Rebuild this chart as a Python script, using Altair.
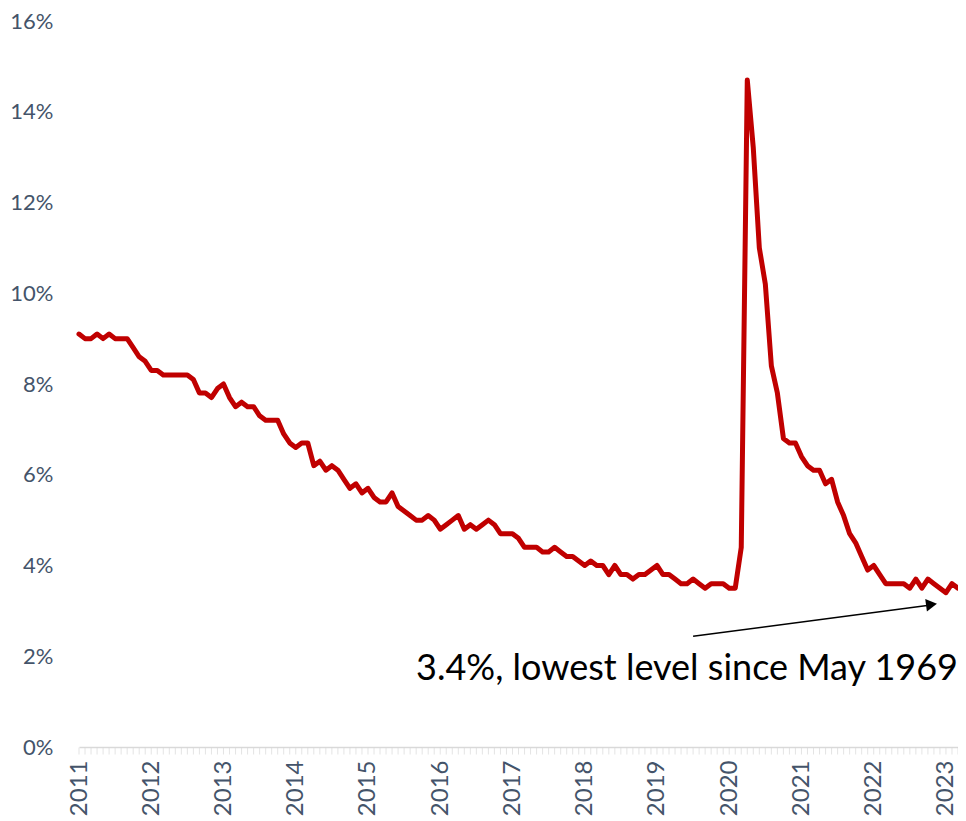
import altair as alt
import pandas as pd

# Monthly unemployment rate (%), Jan 2011 - Mar 2023
start_year = 2011
rates_2011 = [9.1, 9.0, 9.0, 9.1, 9.0, 9.1, 9.0, 9.0, 9.0, 8.8, 8.6, 8.5]
rates_2012 = [8.3, 8.3, 8.2, 8.2, 8.2, 8.2, 8.2, 8.1, 7.8, 7.8, 7.7, 7.9]
rates_2013 = [8.0, 7.7, 7.5, 7.6, 7.5, 7.5, 7.3, 7.2, 7.2, 7.2, 6.9, 6.7]
rates_2014 = [6.6, 6.7, 6.7, 6.2, 6.3, 6.1, 6.2, 6.1, 5.9, 5.7, 5.8, 5.6]
rates_2015 = [5.7, 5.5, 5.4, 5.4, 5.6, 5.3, 5.2, 5.1, 5.0, 5.0, 5.1, 5.0]
rates_2016 = [4.8, 4.9, 5.0, 5.1, 4.8, 4.9, 4.8, 4.9, 5.0, 4.9, 4.7, 4.7]
rates_2017 = [4.7, 4.6, 4.4, 4.4, 4.4, 4.3, 4.3, 4.4, 4.3, 4.2, 4.2, 4.1]
rates_2018 = [4.0, 4.1, 4.0, 4.0, 3.8, 4.0, 3.8, 3.8, 3.7, 3.8, 3.8, 3.9]
rates_2019 = [4.0, 3.8, 3.8, 3.7, 3.6, 3.6, 3.7, 3.6, 3.5, 3.6, 3.6, 3.6]
rates_2020 = [3.5, 3.5, 4.4, 14.7, 13.2, 11.0, 10.2, 8.4, 7.8, 6.8, 6.7, 6.7]
rates_2021 = [6.4, 6.2, 6.1, 6.1, 5.8, 5.9, 5.4, 5.1, 4.7, 4.5, 4.2, 3.9]
rates_2022 = [4.0, 3.8, 3.6, 3.6, 3.6, 3.6, 3.5, 3.7, 3.5, 3.7, 3.6, 3.5]
rates_2023 = [3.4, 3.6, 3.5]

y_ticks = [0, 2, 4, 6, 8, 10, 12, 14, 16]

annotation_text = "3.4%, lowest level since May 1969"

rates = (rates_2011 + rates_2012 + rates_2013 + rates_2014 + rates_2015 + rates_2016
         + rates_2017 + rates_2018 + rates_2019 + rates_2020 + rates_2021 + rates_2022
         + rates_2023)
n = len(rates)
df = pd.DataFrame({"m": list(range(n)), "rate": rates, "zero": [0] * n})

last_idx = n - 1
year_idx = list(range(0, n, 12))

x_scale = alt.Scale(domain=[0, last_idx], nice=False, zero=False)
y_scale = alt.Scale(domain=[0, 16], nice=False)

x_axis = alt.Axis(
    values=year_idx,
    labelExpr=f"toString({start_year} + round(datum.value / 12))",
    labelAngle=-90,
    labelOverlap=False,
    labelFlush=False,
    labelBound=False,
    labelFont="Lato",
    labelFontSize=24,
    labelColor="#44546A",
    labelPadding=13,
    ticks=False,
    domainColor="#D9D9D9",
    domainWidth=1.5,
    grid=False,
    title=None,
)
y_axis = alt.Axis(
    values=y_ticks,
    labelExpr="datum.value + '%'",
    labelFont="Lato",
    labelFontSize=22,
    labelColor="#44546A",
    labelPadding=26,
    ticks=False,
    domain=False,
    grid=False,
    title=None,
)

# monthly minor ticks on the category axis
month_ticks = alt.Chart(df).mark_tick(
    orient="vertical", color="#D9D9D9", thickness=1, size=7, yOffset=4
).encode(
    x=alt.X("m:Q", scale=x_scale, axis=x_axis),
    y=alt.Y("zero:Q", scale=y_scale, axis=y_axis),
)

line = alt.Chart(df).mark_line(
    color="#C00000", strokeWidth=5, strokeJoin="round", strokeCap="round"
).encode(
    x=alt.X("m:Q", scale=x_scale),
    y=alt.Y("rate:Q", scale=y_scale),
)

# Annotation arrow and label
arrow_df = pd.DataFrame({"x": [102.0], "y": [2.44], "x2": [141.5], "y2": [3.13]})
arrow = alt.Chart(arrow_df).mark_rule(color="black", strokeWidth=1.5).encode(
    x=alt.X("x:Q", scale=x_scale), y=alt.Y("y:Q", scale=y_scale),
    x2="x2:Q", y2="y2:Q",
)
head_df = pd.DataFrame({"x": [141.6], "y": [3.14]})
head = alt.Chart(head_df).mark_point(
    shape="triangle-right", filled=True, color="black", opacity=1, size=160, angle=352.4
).encode(x=alt.X("x:Q", scale=x_scale), y=alt.Y("y:Q", scale=y_scale))

label_df = pd.DataFrame({"x": [last_idx], "y": [1.73], "t": [annotation_text]})
label = alt.Chart(label_df).mark_text(
    align="right", baseline="middle", font="Lato", fontSize=36, color="black"
).encode(x=alt.X("x:Q", scale=x_scale), y=alt.Y("y:Q", scale=y_scale), text="t:N")

chart = alt.layer(month_ticks, line, arrow, head, label).properties(
    width=879,
    height=726,
    autosize=alt.AutoSizeParams(type="none"),
    padding={"left": 71, "top": 13, "right": 0, "bottom": 72},
    background="white",
).configure_view(stroke=None)

chart.save("out.html", embed_options={"renderer": "svg", "actions": False})
